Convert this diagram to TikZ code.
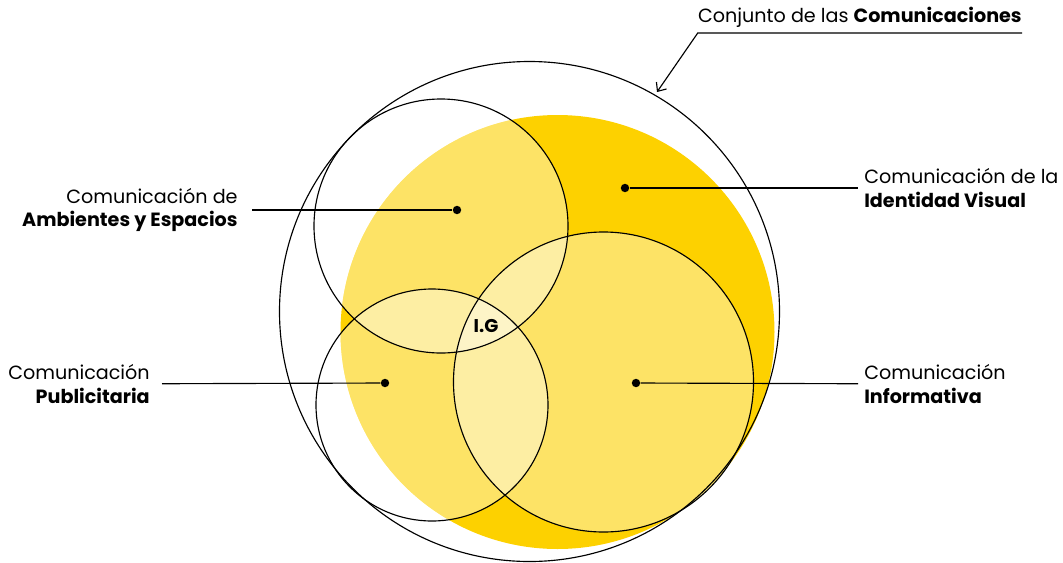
\documentclass[tikz,border=0pt]{standalone}
\usepackage{fontspec}
\setmainfont{Poppins}
\usetikzlibrary{arrows.meta}

\definecolor{amarillo}{HTML}{FDD100}

\tikzset{
  lbl/.style={font=\fontsize{10.9}{13.6}\selectfont, inner sep=0pt},
  punto/.style={circle, fill=black, inner sep=0pt, minimum size=4.8pt},
  borde/.style={line width=0.65pt},
  velo/.style={fill=white, opacity=0.4},
}

\begin{document}
\begin{tikzpicture}[x=0.02cm,y=-0.02cm]
  \useasboundingbox (0,0) rectangle (1063,562);

  % --- Parameters ---
  \def\rOut{250}
  \def\rYel{217}
  \def\rAmb{127}
  \def\rPub{116}
  \def\rInf{150}

  \coordinate (cOut) at (529.5,311.5);
  \coordinate (cYel) at (557.5,332);
  \coordinate (cAmb) at (441,226);
  \coordinate (cPub) at (432,405);
  \coordinate (cInf) at (603.5,382);

  % --- Yellow body ---
  \fill[amarillo] (cYel) circle (\rYel);

  % --- Overlaps, only inside the yellow ---
  \begin{scope}
    \clip (cYel) circle (\rYel);
    \fill[velo] (cAmb) circle (\rAmb);
    \fill[velo] (cPub) circle (\rPub);
    \fill[velo] (cInf) circle (\rInf);
  \end{scope}

  % --- Outlines ---
  \draw[borde] (cOut) circle (\rOut);
  \draw[borde] (cAmb) circle (\rAmb);
  \draw[borde] (cPub) circle (\rPub);
  \draw[borde] (cInf) circle (\rInf);

  \node[font=\fontsize{10.5}{12}\selectfont\bfseries] (ig) at (486,326) {I.G};

  % --- Dots ---
  \node[punto] (dAmb) at (457,210) {};
  \node[punto] (dIde) at (625,188) {};
  \node[punto] (dPub) at (385,383) {};
  \node[punto] (dInf) at (636,383) {};

  % --- Labels ---
  \node[lbl,anchor=east,align=right,inner xsep=8pt] (tAmb) at (252,210)
       {Comunicación de\\\textbf{Ambientes y Espacios}};
  \node[lbl,anchor=west,align=left,inner xsep=3.4pt] (tIde) at (858,188)
       {Comunicación de la\\\textbf{Identidad Visual}};
  \node[lbl,anchor=east,align=right,inner xsep=6.8pt] (tPub) at (162,384)
       {Comunicación\\\textbf{Publicitaria}};
  \node[lbl,anchor=west,align=left,inner xsep=3.4pt] (tInf) at (858,384)
       {Comunicación\\\textbf{Informativa}};

  \draw[borde] (tAmb) -- (dAmb);
  \draw[borde] (dIde) -- (tIde);
  \draw[borde] (tPub) -- (dPub);
  \draw[borde] (dInf) -- (tInf);

  % --- Whole set ---
  \node[lbl,anchor=south east,inner ysep=3pt] (tOut) at (1022,33)
       {Conjunto de las \textbf{Comunicaciones}};
  \coordinate (tip) at (657,92);
  \draw[borde,-{Straight Barb[length=4pt,width=7pt]}]
       (tOut.south east) -- (tOut.south west) -- (tip);
\end{tikzpicture}
\end{document}
